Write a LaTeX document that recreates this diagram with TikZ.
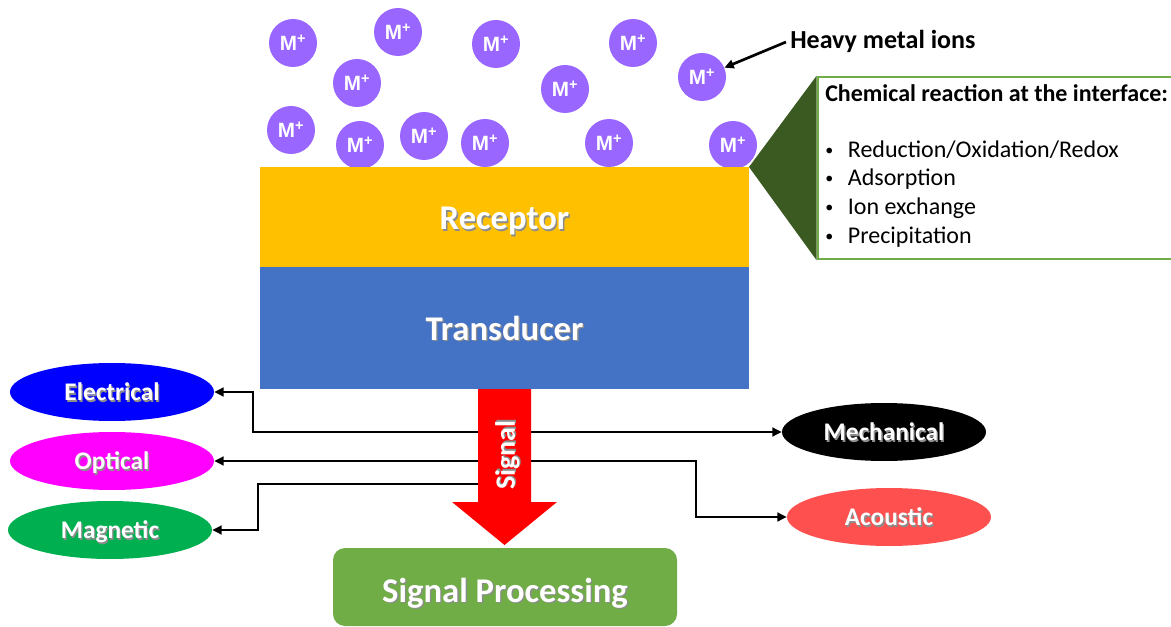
\documentclass[tikz,border=0pt]{standalone}
\usepackage{fontspec}
\setmainfont{Carlito}
\newfontfamily\arialf{Liberation Sans}
\usetikzlibrary{shapes.geometric,arrows.meta}
\definecolor{recepC}{HTML}{FFC000}
\definecolor{transC}{HTML}{4472C4}
\definecolor{sigC}{HTML}{FF0000}
\definecolor{procC}{HTML}{70AD47}
\definecolor{ionC}{HTML}{9966FF}
\definecolor{elecC}{HTML}{0000FF}
\definecolor{optC}{HTML}{FF00FF}
\definecolor{magC}{HTML}{00B050}
\definecolor{acouC}{HTML}{FF5050}
\definecolor{calloutC}{HTML}{3A5A22}
\newcommand\shtxt[1]{\makebox[0pt][l]{\raisebox{-1pt}{\hspace{1pt}\color{black!45}#1}}#1}
\newcommand\smbul{{\fontsize{12}{14}\selectfont\raisebox{1.5pt}{•}}\hspace{11pt}}
\tikzset{
  layerbox/.style={rectangle, inner sep=0pt, outer sep=0pt, minimum width=366.75pt, text=white, text depth=0pt, font=\fontsize{26}{30}\selectfont\bfseries},
  ion/.style={circle, fill=ionC, inner sep=0pt, minimum size=36pt, text=white, font=\arialf\fontsize{15.5}{18}\selectfont\bfseries},
  modal/.style={ellipse, inner sep=0pt, minimum width=153pt, minimum height=43.5pt, text=white, text height=13pt, text depth=0pt, font=\fontsize{19}{22}\selectfont\bfseries},
  conn/.style={line width=2pt, draw=black},
  tip/.style={-{Triangle[length=7pt,width=6.5pt]}},
  tips/.style={{Triangle[length=7pt,width=6.5pt]}-{Triangle[length=7pt,width=6.5pt]}},
  bul/.style={anchor=west, inner sep=0pt, font=\fontsize{18}{21}\selectfont}
}
\begin{document}
\begin{tikzpicture}[x=0.75pt,y=-0.75pt]
\useasboundingbox (0,0) rectangle (1171,627);
% ions
\node[ion] (i1) at (293,43) {M\textsuperscript{+}};
\node[ion] (i2) at (398,32) {M\textsuperscript{+}};
\node[ion] (i3) at (496,44) {M\textsuperscript{+}};
\node[ion] (i4) at (633,43) {M\textsuperscript{+}};
\node[ion] (i5) at (357,83) {M\textsuperscript{+}};
\node[ion] (i6) at (565,89) {M\textsuperscript{+}};
\node[ion] (i7) at (702,77) {M\textsuperscript{+}};
\node[ion] (i8) at (291,130) {M\textsuperscript{+}};
\node[ion] (i9) at (360,145) {M\textsuperscript{+}};
\node[ion] (i10) at (424,136) {M\textsuperscript{+}};
\node[ion] (i11) at (485,143) {M\textsuperscript{+}};
\node[ion] (i12) at (609,143) {M\textsuperscript{+}};
\node[ion] (i13) at (733,145) {M\textsuperscript{+}};
% heavy metal label
\node[anchor=west, inner sep=0pt, font=\fontsize{19.5}{22}\selectfont\bfseries] (hm) at (790,41) {Heavy metal ions};
\draw[conn, -{Triangle[length=7pt,width=6.5pt]}] (hm.west) ++(-4,1) coordinate (hmS) -- (i7);
% layers
\node[layerbox, fill=recepC, minimum height=75pt, text height=19.5pt] (rec) at (504.5,217) {\shtxt{Receptor}};
\node[layerbox, fill=transC, minimum height=91.5pt, text height=18pt] (tra) at (504.5,328) {\shtxt{Transducer}};
% callout
\node[draw=procC, line width=2pt, fill=white, minimum width=265.5pt, minimum height=136.5pt, inner sep=0pt] (call) at (995,168) {};
\fill[calloutC] (rec.north east) -- (call.north west) -- (call.south west) -- cycle;
\node[anchor=west, inner sep=0pt, font=\fontsize{18}{21}\selectfont\bfseries] (ctitle) at (825,93) {Chemical reaction at the interface:};
\node[bul] (b1) at (825,150) {\smbul Reduction/Oxidation/Redox};
\node[bul] (b2) at (825,179) {\smbul Adsorption};
\node[bul] (b3) at (825,208) {\smbul Ion exchange};
\node[bul] (b4) at (825,237) {\smbul Precipitation};
% modality ellipses
\node[modal, fill=elecC] (elec) at (112,392) {\shtxt{Electrical}};
\node[modal, fill=optC] (opt) at (112,461) {\shtxt{Optical}};
\node[modal, fill=magC] (mag) at (110,530) {\shtxt{Magnetic}};
\node[modal, fill=black] (mech) at (884,432) {\shtxt{Mechanical}};
\node[modal, fill=acouC] (acou) at (889,517) {\shtxt{Acoustic}};
% connectors
\coordinate (jE) at (253,0);
\coordinate (jO) at (696,0);
\coordinate (jM) at (258,0);
\coordinate (magS) at (480,484);
\draw[conn, tips] (elec.east) -- (elec.east -| jE) |- (mech.west);
\draw[conn, tips] (opt.east) -- (opt.east -| jO) |- (acou.west);
\draw[conn, tip] (magS) -- (magS -| jM) |- (mag.east);
% signal arrow
\fill[sigC] (478,389) -- (531,389) -- (531,502) -- (557,502) -- (504.5,545) -- (452,502) -- (478,502) -- cycle;
\node[rotate=90, text=white, font=\fontsize{21}{24}\selectfont\bfseries, inner sep=0pt, text depth=0pt] (sig) at (505,455) {\shtxt{Signal}};
% processing
\node[rectangle, rounded corners=9pt, fill=procC, minimum width=258pt, minimum height=58.5pt, inner sep=0pt, text=white, text height=22.5pt, text depth=0pt, font=\fontsize{26}{30}\selectfont\bfseries] (proc) at (505,587) {\shtxt{Signal Processing}};
\end{tikzpicture}
\end{document}
